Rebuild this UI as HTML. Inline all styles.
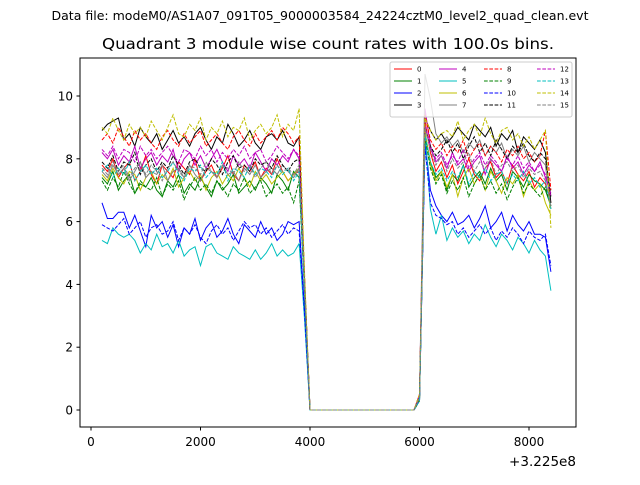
<!DOCTYPE html>
<html><head><meta charset="utf-8"><style>
body{margin:0;background:#fff;}
svg text{font-family:"DejaVu Sans","Liberation Sans",sans-serif;}
</style></head><body>
<svg id="chart" width="640" height="480" xmlns="http://www.w3.org/2000/svg">
<rect width="640" height="480" fill="#fff"/>
<text x="320" y="20" font-size="12.4" text-anchor="middle" textLength="537" lengthAdjust="spacingAndGlyphs">Data file: modeM0/AS1A07_091T05_9000003584_24224cztM0_level2_quad_clean.evt</text>
<text x="328" y="49" font-size="15.5" text-anchor="middle" textLength="452" lengthAdjust="spacingAndGlyphs">Quadrant 3 module wise count rates with 100.0s bins.</text>
<g id="plot"></g>
<rect x="80" y="58" width="496" height="369" fill="none" stroke="#000" stroke-width="1"/>
<g id="axes"></g>
<text x="576" y="466" font-size="13" text-anchor="end" textLength="67" lengthAdjust="spacingAndGlyphs">+3.225e8</text>
<g id="legend"></g>
</svg>
<script>
const xTicks=[0,2000,4000,6000,8000];
const yTicks=[0,2,4,6,8,10];
const zeros=[0,0,0,0,0,0,0,0,0,0,0,0,0,0,0,0,0,0,0,0];
const s0a=[7.8,7.6,8.0,7.4,7.7,7.9,7.3,7.6,8.1,7.5,7.2,7.8,7.6,7.4,7.9,7.7,7.5,8.0,7.3,7.6,7.8,7.4,7.7,8.1,7.5,7.3,7.8,7.6,7.9,7.4,7.7,7.5,8.0,7.6,7.3,7.5,7.6,4.0];
const s0b=[0.4,9.2,8.2,7.6,7.9,7.4,7.8,7.2,7.6,8.0,7.5,7.3,7.7,7.9,7.4,7.6,7.2,7.8,7.5,7.3,7.6,7.1,7.4,7.2,6.6];
const s1a=[7.4,7.2,7.6,7.0,7.3,7.5,6.9,7.2,7.1,7.4,7.0,6.8,7.3,7.1,7.5,6.9,7.2,7.0,7.4,7.1,6.8,7.3,7.0,7.2,7.5,6.9,7.1,7.3,7.0,7.4,7.2,6.9,7.5,7.3,7.0,7.6,7.4,3.9];
const s1b=[0.3,8.8,7.9,7.4,7.6,7.0,7.5,7.3,7.8,7.1,7.4,7.6,7.2,7.7,7.3,7.5,7.0,7.6,7.4,7.1,7.5,7.3,7.2,7.0,6.5];
const s2a=[6.6,6.1,6.1,6.3,6.3,5.8,6.2,5.7,5.2,6.2,5.8,6.0,5.5,5.9,5.2,5.8,5.6,6.1,5.4,5.8,6.0,5.5,5.7,6.1,5.6,5.3,5.9,5.7,5.5,6.0,5.6,5.8,5.4,5.6,6.0,5.9,6.0,3.2];
const s2b=[0.3,8.6,7.0,6.5,6.2,6.0,6.3,5.9,6.0,6.2,5.8,6.1,6.5,5.8,6.0,6.3,5.7,6.2,5.9,5.7,6.0,5.6,5.6,5.5,4.4];
const s3a=[8.9,9.1,9.2,9.3,8.6,8.8,8.4,9.0,8.7,8.5,8.8,8.3,8.6,8.9,8.5,8.7,8.4,8.8,9.0,8.6,8.3,8.7,8.5,9.1,8.8,8.4,8.6,8.9,8.5,8.3,8.7,8.8,8.6,8.9,8.5,8.4,8.7,4.2];
const s3b=[0.4,9.3,8.9,8.6,8.8,8.5,8.7,9.0,8.8,8.6,9.1,8.9,8.7,9.0,8.4,8.8,8.6,8.9,8.2,8.7,8.5,8.3,8.6,8.2,6.6];
const s4a=[8.2,8.0,8.3,7.8,8.1,7.9,8.4,7.7,8.0,8.2,7.8,8.1,7.9,8.3,7.6,8.0,8.2,7.8,8.1,7.7,8.0,8.3,7.9,7.6,8.1,7.8,8.0,7.7,8.2,7.9,7.6,8.0,7.8,8.1,7.9,8.3,8.0,4.1];
const s4b=[0.5,9.6,8.4,7.9,8.1,7.7,8.2,7.8,8.0,7.6,7.9,8.1,7.5,8.0,7.8,7.6,8.1,7.7,7.9,7.5,7.8,7.6,7.9,7.4,6.9];
const s5a=[5.4,5.3,5.8,5.6,5.5,5.6,5.4,5.0,5.3,5.1,5.6,5.2,5.3,5.0,5.4,4.9,5.1,5.2,4.6,5.2,5.3,5.0,4.9,4.8,5.2,5.0,4.9,4.8,5.1,4.8,5.0,5.3,4.9,5.1,4.9,5.0,5.3,2.9];
const s5b=[0.3,8.9,6.4,5.6,6.2,5.4,5.8,5.5,5.7,5.3,5.6,5.4,5.9,5.5,5.2,5.6,5.4,5.1,5.5,5.3,5.0,5.4,5.1,4.9,3.8];
const s6a=[7.5,7.3,7.7,7.4,7.2,7.6,7.5,7.0,7.4,7.6,7.2,7.5,7.3,7.7,7.1,7.4,7.6,7.3,7.5,7.0,7.4,7.6,7.2,7.5,7.3,7.7,7.4,7.1,7.6,7.3,7.5,7.2,7.4,7.6,7.3,7.5,7.7,4.0];
const s6b=[0.3,8.9,7.8,7.3,7.6,7.1,7.5,6.8,7.4,7.7,7.2,7.5,7.0,7.6,7.3,6.9,7.4,7.2,7.5,6.8,7.3,7.0,7.2,6.6,6.2];
const s7a=[7.6,7.4,7.8,7.5,7.7,7.3,7.6,7.9,7.4,7.6,7.5,7.8,7.3,7.6,7.7,7.4,7.8,7.5,7.3,7.7,7.6,7.4,7.8,7.5,7.6,7.3,7.7,7.5,7.8,7.4,7.6,7.7,7.5,7.8,7.6,7.4,7.7,4.0];
const s7b=[0.4,10.7,9.9,8.8,8.5,8.7,8.4,8.6,8.2,8.5,8.3,8.6,8.1,8.4,8.2,8.5,8.0,8.3,8.1,8.4,7.9,8.2,8.0,7.8,6.4];
const s8a=[8.6,8.8,8.5,9.0,8.7,8.4,8.9,8.6,8.8,8.5,8.3,8.7,8.9,8.6,8.4,8.8,8.5,8.7,8.9,8.4,8.6,8.8,8.5,8.3,8.7,8.9,8.6,8.4,8.8,8.5,8.7,8.9,8.6,9.0,8.8,8.5,8.7,4.3];
const s8b=[0.5,9.4,8.6,8.3,8.5,8.1,8.4,8.2,8.6,8.0,8.3,8.5,8.1,8.4,8.2,7.9,8.3,8.1,8.4,8.0,8.2,7.9,8.1,8.9,7.0];
const s9a=[7.3,7.0,7.4,7.1,7.6,7.2,6.9,7.3,7.1,7.0,7.4,6.8,7.2,7.0,7.3,6.7,7.1,7.4,7.0,7.2,6.9,7.3,7.1,6.8,7.2,7.0,7.4,6.9,7.1,7.3,6.8,7.0,7.2,6.9,7.1,6.6,7.3,3.8];
const s9b=[0.3,8.7,7.7,7.2,7.5,6.9,7.3,7.0,7.4,6.8,7.2,7.5,7.0,7.3,6.9,7.2,6.7,7.1,7.4,6.9,7.2,7.0,6.8,7.1,6.5];
const s10a=[5.9,5.8,5.7,5.9,6.1,5.6,5.8,6.0,5.5,5.8,5.9,5.6,5.7,6.0,5.4,5.8,5.6,5.9,5.5,5.3,5.7,5.9,5.6,5.8,5.4,5.7,6.0,5.8,5.9,5.6,5.8,5.5,5.7,5.9,5.6,5.8,5.7,3.1];
const s10b=[0.3,8.4,6.6,6.2,6.1,5.9,6.0,5.6,5.8,5.5,5.7,5.9,5.6,5.8,5.4,5.7,5.5,5.8,5.6,5.3,5.7,5.5,5.4,5.6,4.6];
const s11a=[7.9,7.7,8.1,7.6,7.9,7.8,8.2,7.5,7.8,8.0,7.6,7.9,7.7,8.1,7.8,7.5,7.9,8.0,7.7,7.6,8.0,7.8,7.5,7.9,8.1,7.7,7.8,7.6,8.0,7.8,7.9,7.7,8.1,7.8,7.6,7.9,8.0,4.1];
const s11b=[0.4,9.0,8.4,8.1,8.3,8.6,8.2,8.5,8.0,8.4,8.7,8.2,8.5,8.1,8.6,8.3,8.0,8.4,8.2,8.5,8.1,7.9,8.2,8.0,6.8];
const s12a=[8.3,8.1,8.4,8.0,8.3,8.2,7.9,8.4,8.1,8.3,8.0,8.2,8.4,8.1,7.9,8.3,8.2,8.0,8.4,8.1,8.3,7.9,8.2,8.0,8.3,8.1,8.4,8.0,8.2,8.3,7.9,8.1,8.4,8.2,8.0,8.3,8.1,4.2];
const s12b=[0.4,9.1,8.3,8.0,8.2,7.8,8.1,7.9,8.3,7.7,8.0,8.2,7.8,8.1,7.9,7.6,8.0,7.8,8.1,7.7,7.9,7.6,7.8,7.5,6.8];
const s13a=[7.6,7.8,7.4,7.7,7.5,7.9,7.3,7.6,7.8,7.5,7.7,7.4,7.6,7.9,7.5,7.3,7.7,7.6,7.8,7.4,7.6,7.5,7.9,7.3,7.7,7.6,7.4,7.8,7.5,7.7,7.6,7.4,7.8,7.5,7.7,7.3,7.6,3.9];
const s13b=[0.3,8.8,7.9,7.5,7.7,7.3,7.6,7.4,7.8,7.2,7.6,7.4,7.7,7.3,7.5,7.6,7.2,7.5,7.3,7.6,7.2,7.4,7.1,7.3,6.4];
const s14a=[9.0,8.8,9.3,8.9,8.6,9.1,8.8,9.0,8.7,9.2,8.9,8.6,9.0,9.4,8.8,8.7,9.1,8.9,9.3,8.6,9.0,8.8,9.2,8.7,9.0,8.9,9.3,8.6,8.9,9.1,8.8,9.0,9.4,8.7,9.1,8.9,9.6,4.4];
const s14b=[0.5,9.3,8.9,8.6,8.8,8.9,8.7,9.2,8.6,8.9,9.1,8.7,9.3,8.8,8.5,8.9,9.0,8.6,8.8,8.4,8.7,8.3,8.6,8.9,5.8];
const s15a=[7.7,7.5,7.9,7.6,7.8,7.4,7.7,7.9,7.5,7.8,7.6,7.3,7.7,7.9,7.6,7.4,7.8,7.7,7.5,7.9,7.6,7.4,7.8,7.7,7.5,7.9,7.6,7.8,7.4,7.7,7.9,7.5,7.8,7.6,7.7,7.5,7.8,4.0];
const s15b=[0.4,9.0,8.3,7.8,8.1,7.6,8.0,7.7,7.9,8.2,7.6,7.9,7.7,8.0,7.5,7.8,7.9,7.6,7.8,7.4,7.7,7.5,7.6,7.3,6.5];
const segA=[s0a,s1a,s2a,s3a,s4a,s5a,s6a,s7a,s8a,s9a,s10a,s11a,s12a,s13a,s14a,s15a];
const segB=[s0b,s1b,s2b,s3b,s4b,s5b,s6b,s7b,s8b,s9b,s10b,s11b,s12b,s13b,s14b,s15b];
const seriesNames=["0","1","2","3","4","5","6","7","8","9","10","11","12","13","14","15"];
const t0=200, dt=100;

const colors=["#ff0000","#008000","#0000ff","#000000","#bf00bf","#00bfbf","#bfbf00","#808080"];
const X=v=>91+(v-0)*(529-91)/8000;
const Y=v=>410-v*31.4;
const NS="http://www.w3.org/2000/svg";
const mk=(tag,at,parent)=>{const e=document.createElementNS(NS,tag);for(const k in at)e.setAttribute(k,at[k]);parent.appendChild(e);return e;};
const plot=document.getElementById('plot'), axes=document.getElementById('axes'), legend=document.getElementById('legend');
const clip=mk('clipPath',{id:'clp'},plot);mk('rect',{x:80,y:58,width:496,height:369},clip);
const g=mk('g',{'clip-path':'url(#clp)'},plot);
for(let i=0;i<16;i++){
  const vals=segA[i].concat(zeros,segB[i]);
  const pts=vals.map((v,k)=>X(t0+k*dt).toFixed(1)+','+Y(v).toFixed(1)).join(' ');
  const pl=mk('polyline',{points:pts,fill:'none',stroke:colors[i%8],'stroke-width':1},g);
  if(i>=8)pl.setAttribute('stroke-dasharray','3.7,1.6');
  
  
}
xTicks.forEach(v=>{
  const x=X(v);
  mk('line',{x1:x,x2:x,y1:427,y2:430.5,stroke:'#000'},axes);
  const t=mk('text',{x:x,y:446,'font-size':12,'text-anchor':'middle'},axes);t.textContent=v;
  
  
});
yTicks.forEach(v=>{
  const y=Y(v);
  mk('line',{x1:76.5,x2:80,y1:y,y2:y,stroke:'#000'},axes);
  const t=mk('text',{x:73,y:y+4.5,'font-size':12,'text-anchor':'end'},axes);t.textContent=v;
  
  
});
mk('rect',{x:390,y:62,width:182,height:55,fill:'#fff','fill-opacity':0.8,stroke:'#ccc',rx:2},legend);
const colX=[394,439,484,537], rowY=[67,79,91,103];
for(let i=0;i<16;i++){
  const c=Math.floor(i/4), r=i%4, x=colX[c], y=rowY[r]+2;
  const ln=mk('line',{x1:x,x2:x+18,y1:y,y2:y,stroke:colors[i%8],'stroke-width':1},legend);
  if(i>=8)ln.setAttribute('stroke-dasharray','3.7,1.6');
  
  
  const t=mk('text',{x:x+23,y:y+2.5,'font-size':7},legend);t.textContent=seriesNames[i];
  
  
}
</script>
</body></html>
